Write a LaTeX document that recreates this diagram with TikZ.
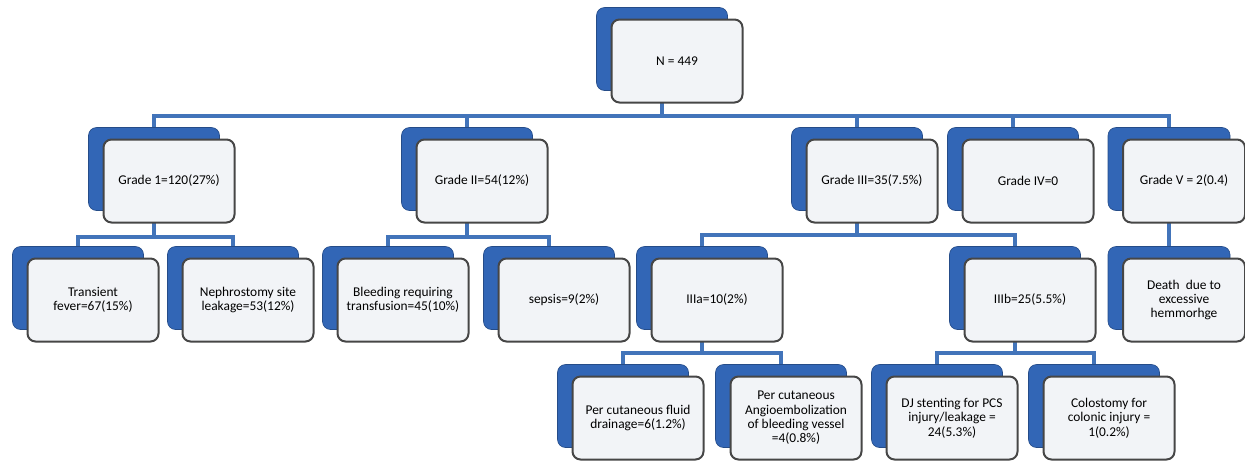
\documentclass[tikz,border=0pt]{standalone}
\usepackage{fontspec}
\setmainfont{Carlito}
\usetikzlibrary{shadows,backgrounds}

\definecolor{boxblue}{RGB}{50,102,182}
\definecolor{boxedge}{RGB}{70,70,70}
\definecolor{boxfill}{RGB}{242,244,247}
\definecolor{linkblue}{RGB}{66,116,186}

\tikzset{
    box/.style={draw=boxedge, line width=1pt, fill=boxfill, rounded corners=4pt,
        minimum width=65.5pt, minimum height=41.5pt, align=center, inner sep=1pt,
        font=\fontsize{6.7}{7.2}\selectfont,
        general shadow={fill=boxblue, draw=boxblue!75!black, line width=0.3pt,
            shadow xshift=-7.5pt, shadow yshift=6pt}},
    link/.style={draw=linkblue, line width=1.6pt}
}

\begin{document}
\begin{tikzpicture}[x=0.5pt, y=-0.5pt]
        \useasboundingbox (0, 0) rectangle (1245, 462);

        \node[box] (n0) at (677, 61) {N = 449};

        \node[box] (g1) at (169, 181) {Grade 1=120(27\%)};
        \node[box] (g2) at (482, 181) {Grade II=54(12\%)};
        \node[box] (g3) at (872, 181) {Grade III=35(7.5\%)};
        \node[box] (g4) at (1028, 181) {Grade IV=0};
        \node[box, minimum width=61pt] (g5) at (1184, 181) {Grade V = 2(0.4)};

        \node[box] (tf) at (93, 300) {Transient\\fever=67(15\%)};
        \node[box] (ns) at (248, 300) {Nephrostomy site\\leakage=53(12\%)};
        \node[box] (bl) at (403, 300) {Bleeding requiring\\transfusion=45(10\%)};
        \node[box] (se) at (564, 300) {sepsis=9(2\%)};
        \node[box] (g3a) at (717, 300) {IIIa=10(2\%)};
        \node[box] (g3b) at (1030, 300) {IIIb=25(5.5\%)};
        \node[box, minimum width=61pt] (dh) at (1184, 300) {Death~ due to\\excessive\\hemmorhge};

        \node[box] (fd) at (638, 418) {Per cutaneous fluid\\drainage=6(1.2\%)};
        \node[box] (ae) at (796, 418) {Per cutaneous\\Angioembolization\\of bleeding vessel\\=4(0.8\%)};
        \node[box] (dj) at (952, 418) {DJ stenting for PCS\\injury/leakage =\\24(5.3\%)};
        \node[box] (co) at (1109, 418) {Colostomy for\\colonic injury =\\1(0.2\%)};

        \begin{scope}[on background layer]
        \draw[link] ([xshift=-7.5pt]n0.center) -- ++(0, 55) -| ([xshift=-7.5pt]g1.center);
        \draw[link] ([xshift=-7.5pt]n0.center) -- ++(0, 55) -| ([xshift=-7.5pt]g2.center);
        \draw[link] ([xshift=-7.5pt]n0.center) -- ++(0, 55) -| ([xshift=-7.5pt]g3.center);
        \draw[link] ([xshift=-7.5pt]n0.center) -- ++(0, 55) -| ([xshift=-7.5pt]g4.center);
        \draw[link] ([xshift=-7.5pt]n0.center) -- ++(0, 55) -| ([xshift=-7.5pt]g5.center);

        \draw[link] ([xshift=-7.5pt]g1.center) -- ++(0, 56) -| ([xshift=-7.5pt]tf.center);
        \draw[link] ([xshift=-7.5pt]g1.center) -- ++(0, 56) -| ([xshift=-7.5pt]ns.center);

        \draw[link] ([xshift=-7.5pt]g2.center) -- ++(0, 56) -| ([xshift=-7.5pt]bl.center);
        \draw[link] ([xshift=-7.5pt]g2.center) -- ++(0, 56) -| ([xshift=-7.5pt]se.center);

        \draw[link] ([xshift=-7.5pt]g3.center) -- ++(0, 54) -| ([xshift=-7.5pt]g3a.center);
        \draw[link] ([xshift=-7.5pt]g3.center) -- ++(0, 54) -| ([xshift=-7.5pt]g3b.center);

        \draw[link] ([xshift=-7.5pt]g5.center) -- ([xshift=-7.5pt]dh.center);

        \draw[link] ([xshift=-7.5pt]g3a.center) -- ++(0, 53) -| ([xshift=-7.5pt]fd.center);
        \draw[link] ([xshift=-7.5pt]g3a.center) -- ++(0, 53) -| ([xshift=-7.5pt]ae.center);

        \draw[link] ([xshift=-7.5pt]g3b.center) -- ++(0, 53) -| ([xshift=-7.5pt]dj.center);
        \draw[link] ([xshift=-7.5pt]g3b.center) -- ++(0, 53) -| ([xshift=-7.5pt]co.center);
        \end{scope}
    \end{tikzpicture}
\end{document}
